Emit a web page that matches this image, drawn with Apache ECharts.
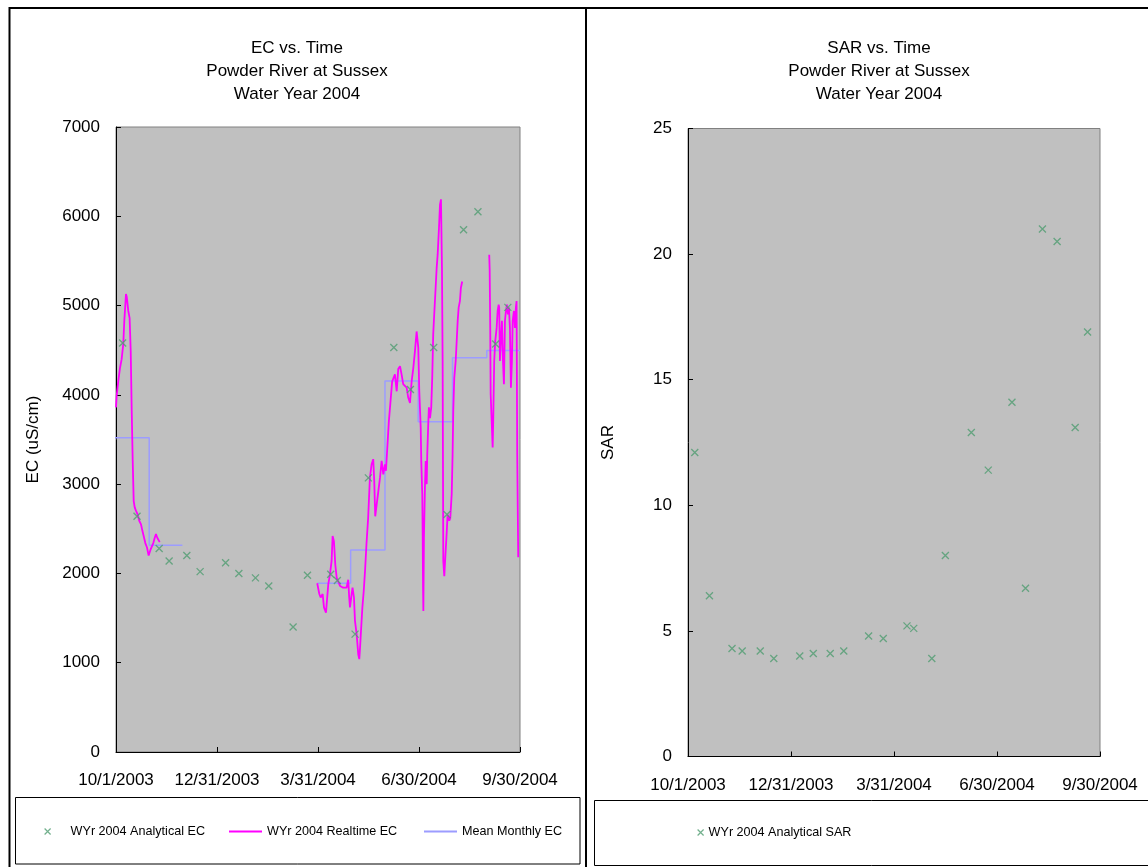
<!DOCTYPE html>
<html>
<head>
<meta charset="utf-8">
<title>Powder River at Sussex - Water Year 2004</title>
<script src="https://cdn.jsdelivr.net/npm/echarts@6/dist/echarts.min.js"></script>
<style>
  html, body { margin: 0; padding: 0; background: #ffffff; }
  #chart { width: 1148px; height: 867px; }
</style>
</head>
<body>
<div id="chart"></div>
<script>
// ---------------------------------------------------------------
// Data: Powder River at Sussex, water year 2004 (10/1/2003 - 9/30/2004)
// ---------------------------------------------------------------

// grab-sample dates (shared by the analytical EC and SAR results)
const sampleDates = [
  '2003-10-07', '2003-10-20', '2003-11-09', '2003-11-18', '2003-12-04', '2003-12-16',
  '2004-01-08', '2004-01-20', '2004-02-04', '2004-02-16', '2004-03-09', '2004-03-22',
  '2004-04-12', '2004-04-18', '2004-05-04', '2004-05-16', '2004-06-08', '2004-06-23',
  '2004-07-14', '2004-07-26', '2004-08-10', '2004-08-23', '2004-09-08', '2004-09-19'
];

// laboratory EC, uS/cm
const analyticalEC = [
  4580, 2640, 2280, 2140, 2200, 2020,
  2120, 2000, 1950, 1860, 1400, 1980,
  1990, 1920, 1320, 3070, 4530, 4060,
  4530, 2660, 5850, 6050, 4570, 4980
];

// laboratory sodium adsorption ratio
const analyticalSAR = [
  12.1, 6.4, 4.3, 4.2, 4.2, 3.9,
  4.0, 4.1, 4.1, 4.2, 4.8, 4.7,
  5.2, 5.1, 3.9, 8.0, 12.9, 11.4,
  14.1, 6.7, 21.0, 20.5, 13.1, 16.9
];

// monthly mean EC from the continuous monitor (no record Dec - Mar)
const meanMonths = ['2003-10', '2003-11', '2004-04', '2004-05', '2004-06', '2004-07', '2004-08', '2004-09'];
const meanMonthlyEC = [3520, 2315, 1889, 2262, 4155, 3699, 4415, 4498];

// continuous monitor record: [days since 10/1/2003, EC uS/cm]; null marks a gap in the record
const realtimeEC = [
  [0, 3860], [0.6, 3990], [2.1, 4160], [3.6, 4300], [5.1, 4400], [6.6, 4570], [7.5, 4830],
  [8.4, 5000], [9.0, 5130], [9.7, 5100], [11.1, 4940], [12.3, 4860], [13.3, 4490], [14.2, 3820],
  [15.1, 3260], [16.0, 2810], [16.9, 2740], [18.1, 2700], [19.6, 2660], [21.0, 2590], [22.6, 2550],
  [23.8, 2480], [25.0, 2420], [26.5, 2340], [28.0, 2290], [29.5, 2200], [30.4, 2180], [31.3, 2270],
  [32.5, 2290], [33.7, 2340], [35.0, 2400], [36.1, 2440], [37.3, 2400], [38.6, 2370], [39.5, 2350],
  [40, null],
  [181.8, 1890], [183.7, 1770], [184.9, 1730], [186.7, 1770], [187.9, 1620], [189.7, 1560],
  [190.9, 1580], [191.8, 1880], [193.3, 1990], [194.8, 2140], [195.7, 2420], [196.9, 2360],
  [198.1, 2100], [199.4, 1950], [201.2, 1930], [202.4, 1860], [203.9, 1840], [205.3, 1840],
  [206.8, 1860], [208.3, 1840], [209.8, 1930], [210.7, 1730], [211.4, 1620], [212.9, 1770],
  [213.7, 1840], [215.0, 1730], [215.9, 1470], [217.4, 1320], [218.9, 1090], [219.8, 1040],
  [220.3, 1130], [221.0, 1280], [221.7, 1430], [222.6, 1620], [223.8, 1800], [225.0, 2030],
  [226.3, 2330], [227.8, 2620], [229.4, 3070], [230.9, 3220], [232.4, 3280], [233.3, 3040],
  [234.2, 2640], [235.5, 2770], [237.0, 2920], [238.5, 3070], [240.0, 3260], [241.5, 3110],
  [243.0, 3220], [243.9, 3150], [246.5, 3700], [249.5, 4150], [252.0, 4230], [253.6, 4040],
  [255.0, 4290], [256.6, 4320], [258.0, 4230], [259.5, 4120], [261.0, 4120], [262.6, 4080],
  [264.0, 3970], [265.6, 3910], [267.1, 4150], [268.6, 4300], [270.1, 4490], [271.6, 4710],
  [273.1, 4530], [274.0, 4040], [275.3, 3630], [275.8, 3260], [276.7, 2890], [277.1, 2400],
  [277.4, 1840], [277.7, 1580], [278.2, 2400], [279.1, 2960], [279.8, 3260], [280.7, 3000],
  [281.2, 3330], [282.1, 3670], [282.7, 3860], [283.7, 3740], [284.8, 3860], [285.7, 4190],
  [286.6, 4680], [287.5, 4900], [288.4, 5110], [289.7, 5420], [290.6, 5570], [291.8, 5870],
  [292.7, 6130], [293.6, 6190], [294.5, 5420], [295.1, 4380], [295.4, 3260], [295.7, 2140],
  [296.6, 1970], [297.5, 2180], [298.7, 2440], [299.6, 2660], [301.1, 2590], [302.0, 2620],
  [303.3, 2890], [304.1, 3330], [304.7, 3820], [305.6, 4190], [306.9, 4380], [307.8, 4600],
  [308.7, 4830], [309.6, 4980], [310.7, 5050], [311.6, 5200], [312.8, 5270],
  [313.5, null],
  [337.2, 5570], [337.6, 5400], [338.1, 4750], [338.5, 4010], [339.4, 3710], [340.3, 3410],
  [340.8, 3710], [341.7, 4380], [342.6, 4600], [343.9, 4750], [344.8, 4940], [345.7, 5010],
  [346.2, 4980], [346.9, 4380], [347.8, 4640], [348.7, 4830], [349.6, 4380], [350.5, 4120],
  [351.4, 4830], [352.3, 4940], [353.2, 5010], [354.1, 4900], [355.0, 4980], [355.9, 4750],
  [356.8, 4080], [357.7, 4380], [358.4, 4830], [359.5, 4940], [360.4, 4750], [361.3, 4980],
  [361.9, 5050], [362.5, 3330], [363.4, 2180]
];

// x-axis runs over the water year, labelled every quarter
const yearStart = '2003-10-01';
const yearEnd = '2004-09-30';

// ---------------------------------------------------------------
// Helpers
// ---------------------------------------------------------------
const MS_DAY = 86400000;
function utc(s) { const p = s.split('-').map(Number); return Date.UTC(p[0], p[1] - 1, p[2] || 1); }
const T0 = utc(yearStart);
function dayOf(s) { return (utc(s) - T0) / MS_DAY; }
function fmtDay(v) {
  const d = new Date(T0 + v * MS_DAY);
  return (d.getUTCMonth() + 1) + '/' + d.getUTCDate() + '/' + d.getUTCFullYear();
}
function nextMonth(m) {
  const p = m.split('-').map(Number);
  const y = p[1] === 12 ? p[0] + 1 : p[0];
  const mm = p[1] === 12 ? 1 : p[1] + 1;
  return y + '-' + String(mm).padStart(2, '0');
}

const SPAN = dayOf(yearEnd);          // 365 days
const TICK = SPAN / 4;                // quarterly ticks

// step line for the monthly means: each level runs from the last day of
// the previous month to the last day of its own month
const meanStep = [];
meanMonths.forEach(function (m, i) {
  const start = dayOf(m + '-01') - 1;
  const end = dayOf(nextMonth(m) + '-01') - 1;
  meanStep.push([start, meanMonthlyEC[i]]);
  const nxt = meanMonths[i + 1];
  if (!nxt || nxt !== nextMonth(m)) {
    meanStep.push([end, meanMonthlyEC[i]]);
    if (nxt) meanStep.push([end + 0.5, null]);
  }
});

const sampleDays = sampleDates.map(dayOf);
const ecPoints = sampleDays.map(function (d, i) { return [d, analyticalEC[i]]; });
const sarPoints = sampleDays.map(function (d, i) { return [d, analyticalSAR[i]]; });

// ---------------------------------------------------------------
// Styling
// ---------------------------------------------------------------
const FONT = '"Liberation Sans", Arial, Helvetica, sans-serif';
const GREEN = '#4f9c70';
const MAGENTA = '#ff00ff';
const LAVENDER = '#9c9cff';
const PLOT_BG = '#c0c0c0';
const CROSS = 'path://M0,0L10,10M10,0L0,10';

function xAxis(gridIndex) {
  return {
    type: 'value', gridIndex: gridIndex, min: 0, max: SPAN, interval: TICK,
    axisLine: { show: true, onZero: false, lineStyle: { color: '#000', width: 1 } },
    axisTick: { show: true, inside: true, length: 5, lineStyle: { color: '#000' } },
    splitLine: { show: false },
    axisLabel: {
      formatter: fmtDay, color: '#000', fontFamily: FONT, fontSize: 17, margin: 20,
      showMinLabel: true, showMaxLabel: true, hideOverlap: false
    }
  };
}
function yAxis(gridIndex, max, interval, name, gap) {
  return {
    type: 'value', gridIndex: gridIndex, min: 0, max: max, interval: interval,
    name: name, nameLocation: 'middle', nameGap: gap, nameRotate: 90,
    nameTextStyle: { color: '#000', fontFamily: FONT, fontSize: 17 },
    axisLine: { show: true, lineStyle: { color: '#000', width: 1 } },
    axisTick: { show: true, inside: true, length: 5, lineStyle: { color: '#000' } },
    splitLine: { show: false },
    axisLabel: {
      color: '#000', fontFamily: FONT, fontSize: 17, margin: 16,
      formatter: function (v) { return String(v); }
    }
  };
}
function titleAt(x, text) {
  return {
    text: text, left: x, top: 37, textAlign: 'center', padding: 0,
    textStyle: { color: '#000', fontFamily: FONT, fontSize: 17, fontWeight: 'normal', lineHeight: 23 }
  };
}
function legendAt(item, x, y, w, h) {
  return {
    data: [item], left: x, top: y, padding: 0, itemWidth: w, itemHeight: h,
    selectedMode: false, orient: 'horizontal',
    textStyle: { color: '#000', fontFamily: FONT, fontSize: 12.6 }
  };
}
function crossLegendItem(name) {
  return { name: name, icon: CROSS, itemStyle: { color: 'rgba(0,0,0,0)', borderColor: GREEN, borderWidth: 1.2 } };
}
function lineLegendItem(name, color) {
  return { name: name, icon: 'rect', itemStyle: { color: color, borderWidth: 0 } };
}

const chart = echarts.init(document.getElementById('chart'), null, { renderer: 'canvas' });

chart.setOption({
  animation: false,
  backgroundColor: '#ffffff',
  title: [
    titleAt(297, 'EC vs. Time\nPowder River at Sussex\nWater Year 2004'),
    titleAt(879, 'SAR vs. Time\nPowder River at Sussex\nWater Year 2004')
  ],
  grid: [
    { left: 116, top: 127, width: 404, height: 625, show: true, backgroundColor: PLOT_BG,
      borderColor: '#808080', borderWidth: 1, containLabel: false, outerBoundsMode: 'none' },
    { left: 688, top: 128.5, width: 412, height: 628, show: true, backgroundColor: PLOT_BG,
      borderColor: '#808080', borderWidth: 1, containLabel: false, outerBoundsMode: 'none' }
  ],
  xAxis: [xAxis(0), xAxis(1)],
  yAxis: [yAxis(0, 7000, 1000, 'EC (uS/cm)', 74), yAxis(1, 25, 5, 'SAR', 71)],
  legend: [
    legendAt(crossLegendItem('WYr 2004 Analytical EC'), 44, 825, 36, 6),
    legendAt(lineLegendItem('WYr 2004 Realtime EC', MAGENTA), 229, 825, 33, 2),
    legendAt(lineLegendItem('Mean Monthly EC', LAVENDER), 424, 825, 33, 2),
    legendAt(crossLegendItem('WYr 2004 Analytical SAR'), 697, 826, 6, 6)
  ],
  series: [
    {
      name: 'Mean Monthly EC', type: 'line', xAxisIndex: 0, yAxisIndex: 0,
      data: meanStep, step: 'end', smooth: false, symbol: 'none', showSymbol: false,
      connectNulls: false, silent: true,
      lineStyle: { color: LAVENDER, width: 1.5 }, itemStyle: { color: LAVENDER }, z: 2
    },
    {
      name: 'WYr 2004 Realtime EC', type: 'line', xAxisIndex: 0, yAxisIndex: 0,
      data: realtimeEC, smooth: false, symbol: 'none', showSymbol: false,
      connectNulls: false, silent: true,
      lineStyle: { color: MAGENTA, width: 1.8 }, itemStyle: { color: MAGENTA }, z: 3
    },
    {
      name: 'WYr 2004 Analytical EC', type: 'scatter', xAxisIndex: 0, yAxisIndex: 0,
      data: ecPoints, symbol: CROSS, symbolSize: 7, silent: true,
      itemStyle: { color: 'rgba(0,0,0,0)', borderColor: GREEN, borderWidth: 1.3 }, z: 4
    },
    {
      name: 'WYr 2004 Analytical SAR', type: 'scatter', xAxisIndex: 1, yAxisIndex: 1,
      data: sarPoints, symbol: CROSS, symbolSize: 7, silent: true,
      itemStyle: { color: 'rgba(0,0,0,0)', borderColor: GREEN, borderWidth: 1.3 }, z: 4
    }
  ],
  graphic: [
    // chart-area frames of the two panels
    { type: 'rect', silent: true, z: 100,
      shape: { x: 9.5, y: 8, width: 576.5, height: 900 },
      style: { fill: 'none', stroke: '#000', lineWidth: 2 } },
    { type: 'rect', silent: true, z: 100,
      shape: { x: 586, y: 8, width: 600, height: 900 },
      style: { fill: 'none', stroke: '#000', lineWidth: 2 } },
    // legend boxes
    { type: 'rect', silent: true, z: 90,
      shape: { x: 15.5, y: 797.5, width: 564.5, height: 66.5 },
      style: { fill: 'none', stroke: '#000', lineWidth: 1 } },
    { type: 'rect', silent: true, z: 90,
      shape: { x: 594.5, y: 800.5, width: 600, height: 65 },
      style: { fill: 'none', stroke: '#000', lineWidth: 1 } }
  ]
});
</script>
</body>
</html>
